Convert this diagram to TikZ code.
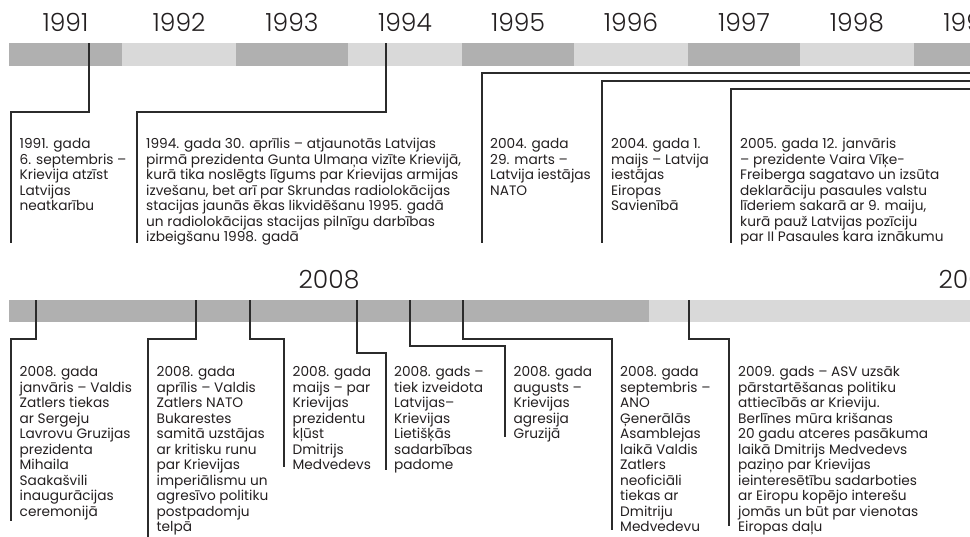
\documentclass[tikz,border=0pt]{standalone}
\usepackage{fontspec}
\setmainfont{Poppins}
\newfontfamily\yearfont{Poppins}[UprightFont=* Light]
\definecolor{barDark}{HTML}{B0B0B0}
\definecolor{barLight}{HTML}{D9D9D9}
\definecolor{inkText}{HTML}{231F20}
\definecolor{inkLine}{HTML}{2B2B2B}
% multi-line event text whose baseline is the first line
\newcommand\evlines[1]{\begin{tabular}[t]{@{}l@{}}#1\end{tabular}}
\begin{document}
\begin{tikzpicture}[x=1pt,y=-1pt,
  darkseg/.style={fill=barDark,draw=none},
  lightseg/.style={fill=barLight,draw=none},
  yearlabel/.style={anchor=base,inner sep=0pt,text=inkText,font=\yearfont\fontsize{25}{28}\selectfont},
  evt/.style={anchor=base west,inner sep=0pt,text=inkText,font=\fontsize{13.7}{15.5}\selectfont},
  conn/.style={draw=inkLine,line width=1.1pt}]
\useasboundingbox (0,0) rectangle (970,536);
\clip (0,0) rectangle (970,536);

% ---------- upper timeline ----------
\path[darkseg]  (9,43)   rectangle (122,66);
\path[lightseg] (122,43) rectangle (236,66);
\path[darkseg]  (236,43) rectangle (348,66);
\path[lightseg] (348,43) rectangle (462,66);
\path[darkseg]  (462,43) rectangle (574,66);
\path[lightseg] (574,43) rectangle (688,66);
\path[darkseg]  (688,43) rectangle (800,66);
\path[lightseg] (800,43) rectangle (914,66);
\path[darkseg]  (914,43) rectangle (1030,66);

\node[yearlabel] (y1991) at (65.5,31) {1991};
\node[yearlabel] (y1992) at (179,31) {1992};
\node[yearlabel] (y1993) at (292,31) {1993};
\node[yearlabel] (y1994) at (405,31) {1994};
\node[yearlabel] (y1995) at (518,31) {1995};
\node[yearlabel] (y1996) at (631,31) {1996};
\node[yearlabel] (y1997) at (744,31) {1997};
\node[yearlabel] (y1998) at (857,31) {1998};
\node[yearlabel] (y1999) at (970.5,31) {1999};

\begin{scope}
\clip (0,0) rectangle (970,244);
\node[evt] (e1991) at (19.5,148.5) {\evlines{1991. gada\\6. septembris –\\Krievija atzīst\\Latvijas\\neatkarību}};
\node[evt] (e1994) at (146,148.5) {\evlines{1994. gada 30. aprīlis – atjaunotās Latvijas\\pirmā prezidenta Gunta Ulmaņa vizīte Krievijā,\\kurā tika noslēgts līgums par Krievijas armijas\\izvešanu, bet arī par Skrundas radiolokācijas\\stacijas jaunās ēkas likvidēšanu 1995. gadā\\un radiolokācijas stacijas pilnīgu darbības\\izbeigšanu 1998. gadā}};
\node[evt] (e2004a) at (490,148.5) {\evlines{2004. gada\\29. marts –\\Latvija iestājas\\NATO}};
\node[evt] (e2004b) at (611,148.5) {\evlines{2004. gada 1.\\maijs – Latvija\\iestājas\\Eiropas\\Savienībā}};
\node[evt] (e2005) at (740,148.5) {\evlines{2005. gada 12. janvāris\\– prezidente Vaira Vīķe-\\Freiberga sagatavo un izsūta\\deklarāciju pasaules valstu\\līderiem sakarā ar 9. maiju,\\kurā pauž Latvijas pozīciju\\par II Pasaules kara iznākumu}};
\end{scope}

% ticks on the bar and the corners of each leader line
\coordinate (k1991) at (89,43);   \coordinate (c1991) at (11,112);  \coordinate (f1991) at (11,243);
\coordinate (k1994) at (386,43);  \coordinate (c1994) at (137,112); \coordinate (f1994) at (137,243);
\coordinate (k2004a) at (1000,73); \coordinate (c2004a) at (482,73); \coordinate (f2004a) at (482,243);
\coordinate (k2004b) at (1000,81); \coordinate (c2004b) at (602,81); \coordinate (f2004b) at (602,243);
\coordinate (k2005) at (1000,89);  \coordinate (c2005) at (731,89);  \coordinate (f2005) at (731,243);

\draw[conn] (k1991) |- (c1991) -- (f1991);
\draw[conn] (k1994) |- (c1994) -- (f1994);
\draw[conn] (k2004a) -- (c2004a) -- (f2004a);
\draw[conn] (k2004b) -- (c2004b) -- (f2004b);
\draw[conn] (k2005) -- (c2005) -- (f2005);

% ---------- lower timeline ----------
\path[darkseg]  (9,300)   rectangle (649,322);
\path[lightseg] (649,300) rectangle (1030,322);

\node[yearlabel] (y2008) at (329,288) {2008};
\node[yearlabel] (y2009) at (969,288) {2009};

\node[evt] (m01) at (19.5,376.5) {\evlines{2008. gada\\janvāris – Valdis\\Zatlers tiekas\\ar Sergeju\\Lavrovu Gruzijas\\prezidenta\\Mihaila\\Saakašvili\\inaugurācijas\\ceremonijā}};
\node[evt] (m04) at (156.5,376.5) {\evlines{2008. gada\\aprīlis – Valdis\\Zatlers NATO\\Bukarestes\\samitā uzstājas\\ar kritisku runu\\par Krievijas\\imperiālismu un\\agresīvo politiku\\postpadomju\\telpā}};
\node[evt] (m05) at (292.5,376.5) {\evlines{2008. gada\\maijs – par\\Krievijas\\prezidentu\\kļūst\\Dmitrijs\\Medvedevs}};
\node[evt] (mlk) at (394,376.5) {\evlines{2008. gads –\\tiek izveidota\\Latvijas–\\Krievijas\\Lietišķās\\sadarbības\\padome}};
\node[evt] (m08) at (513.5,376.5) {\evlines{2008. gada\\augusts –\\Krievijas\\agresija\\Gruzijā}};
\node[evt] (m09) at (620,376.5) {\evlines{2008. gada\\septembris –\\ANO\\Ģenerālās\\Asamblejas\\laikā Valdis\\Zatlers\\neoficiāli\\tiekas ar\\Dmitriju\\Medvedevu}};
\node[evt] (y09) at (738,376.5) {\evlines{2009. gads – ASV uzsāk\\pārstartēšanas politiku\\attiecībās ar Krieviju.\\Berlīnes mūra krišanas\\20 gadu atceres pasākuma\\laikā Dmitrijs Medvedevs\\paziņo par Krievijas\\ieinteresētību sadarboties\\ar Eiropu kopējo interešu\\jomās un būt par vienotas\\Eiropas daļu}};

\coordinate (k01) at (36,300);  \coordinate (c01) at (11,339);  \coordinate (f01) at (11,521);
\coordinate (k04) at (196,300); \coordinate (c04) at (148,339); \coordinate (f04) at (148,540);
\coordinate (k05) at (250,300); \coordinate (c05) at (284,339); \coordinate (f05) at (284,467);
\coordinate (klk) at (357,300); \coordinate (clk) at (386,353); \coordinate (flk) at (386,470);
\coordinate (k08) at (410,300); \coordinate (c08) at (505,346); \coordinate (f08) at (505,437);
\coordinate (k09) at (463,300); \coordinate (c09) at (612,339); \coordinate (f09) at (612,530);
\coordinate (ky9) at (689,300); \coordinate (cy9) at (729,339); \coordinate (fy9) at (729,526);

\draw[conn] (k01) |- (c01) -- (f01);
\draw[conn] (k04) |- (c04) -- (f04);
\draw[conn] (k05) |- (c05) -- (f05);
\draw[conn] (klk) |- (clk) -- (flk);
\draw[conn] (k08) |- (c08) -- (f08);
\draw[conn] (k09) |- (c09) -- (f09);
\draw[conn] (ky9) |- (cy9) -- (fy9);
\end{tikzpicture}
\end{document}
